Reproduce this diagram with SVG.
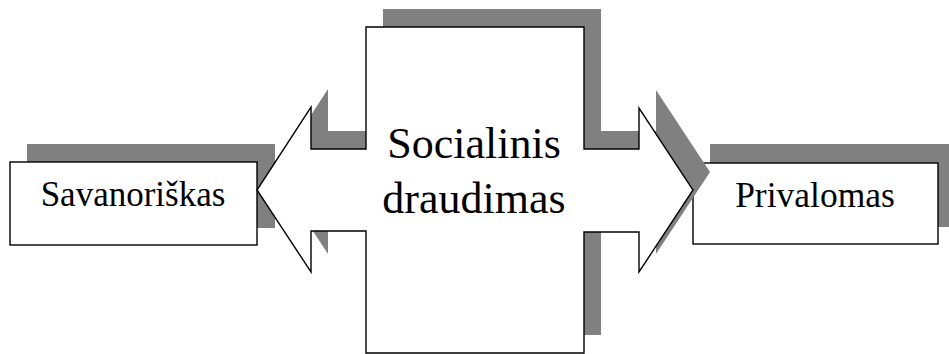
<svg xmlns="http://www.w3.org/2000/svg" width="949" height="354" viewBox="0 0 949 354">
<style>
.shadow{fill:#808080;stroke:none}
.shape{fill:#fff;stroke:#000;stroke-width:1.4}
.lbl{font-family:"Liberation Serif","Times New Roman",serif;fill:#000;text-anchor:middle}
</style>
<defs>
<polygon id="cross" points="366,27 584,27 584,149 639,149 639,108 693,190 639,272 639,232 584,232 584,353 366,353 366,231 311,231 311,272 257,190 311,107 311,149 366,149"/>
</defs>
<rect x="0" y="0" width="949" height="354" fill="#fff"/>
<g id="savanoriskas">
<rect class="shadow" x="27" y="144" width="248" height="84"/>
<rect class="shape" x="10" y="162" width="247" height="83"/>
<text class="lbl" x="133" y="206" font-size="35">Savanoriškas</text>
</g>
<g id="privalomas">
<rect class="shadow" x="710" y="144" width="245" height="83"/>
<rect class="shape" x="693" y="163" width="245" height="81"/>
<text class="lbl" x="815" y="207" font-size="35.5">Privalomas</text>
</g>
<g id="connectors">
<use href="#cross" class="shadow" transform="translate(17,-18)"/>
</g>
<g id="socialinis-draudimas">
<use href="#cross" class="shape"/>
<text class="lbl" x="474" y="158" font-size="44">Socialinis</text>
<text class="lbl" x="474" y="213" font-size="44">draudimas</text>
</g>
</svg>
